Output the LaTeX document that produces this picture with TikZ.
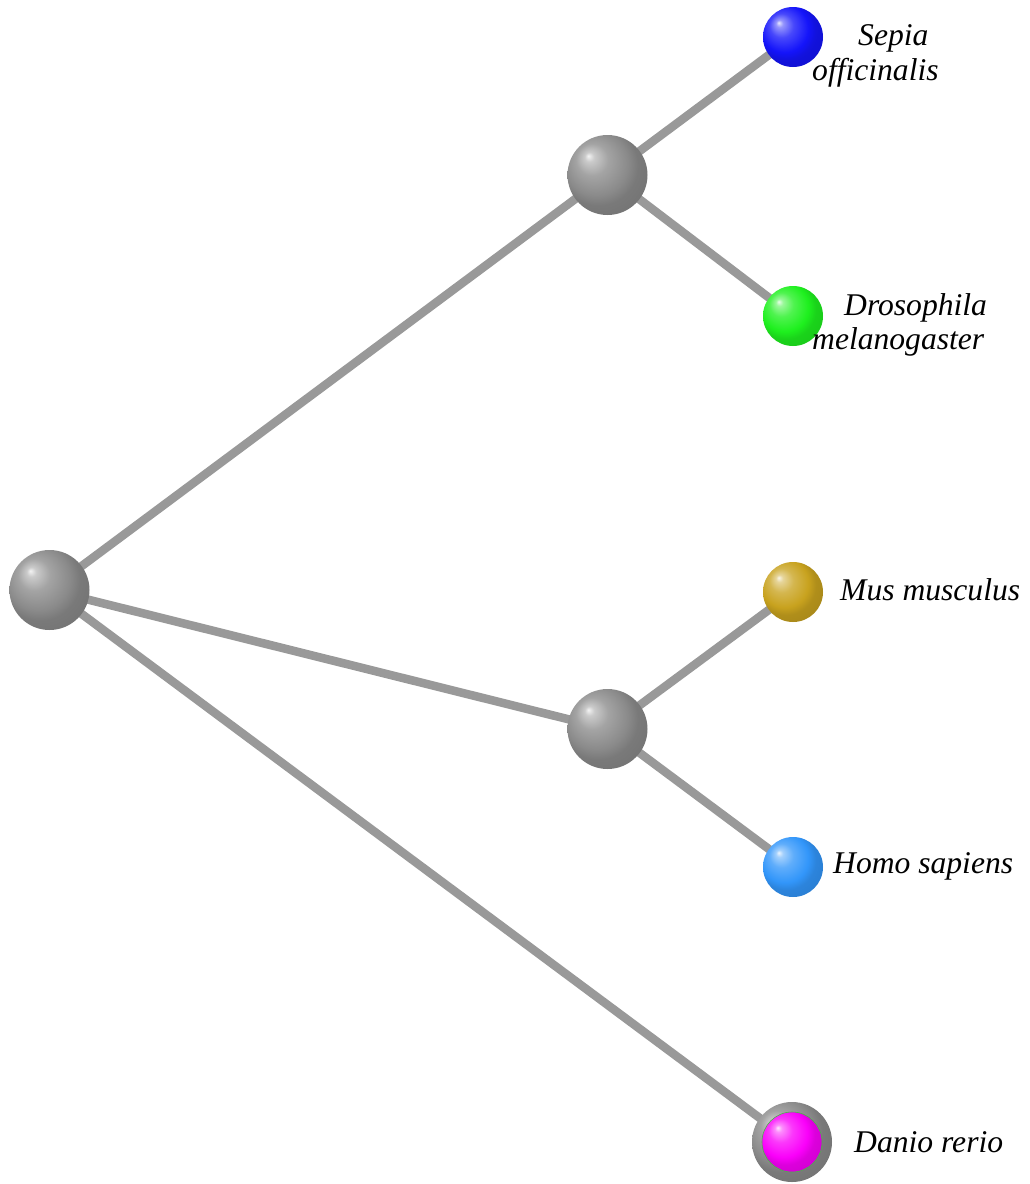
\documentclass[tikz,border=0pt]{standalone}
\usepackage{fontspec}
\setmainfont{Liberation Serif}
\makeatletter
% glossy sphere: small highlight upper left, body colour, slightly darker rim
\pgfdeclareradialshading[tikz@ball]{softball}{\pgfqpoint{-12bp}{12bp}}{%
  color(0bp)=(tikz@ball!10!white);
  color(3bp)=(tikz@ball!45!white);
  color(10bp)=(tikz@ball!78!white);
  color(20bp)=(tikz@ball);
  color(25bp)=(tikz@ball!88!black);
  color(50bp)=(tikz@ball!75!black)}
\makeatother
\definecolor{edgegray}{RGB}{153,153,153}
\definecolor{knotgray}{RGB}{138,138,138}
\definecolor{sepiablue}{RGB}{20,20,250}
\definecolor{flygreen}{RGB}{30,240,30}
\definecolor{mousegold}{RGB}{200,162,30}
\definecolor{humanblue}{RGB}{50,150,250}
\definecolor{fishpink}{RGB}{250,0,250}
\tikzset{
  branch/.style={draw=edgegray, line width=8.5pt},
  innerball/.style={circle, inner sep=0pt, minimum size=80pt, ball color=knotgray, shading=softball},
  leafball/.style={circle, inner sep=0pt, minimum size=60pt, ball color=#1, shading=softball},
  ringball/.style={circle, inner sep=0pt, minimum size=80pt, ball color=knotgray, shading=softball},
  species/.style={font=\fontsize{31.6}{35}\selectfont\itshape, inner sep=0pt, anchor=base west},
}
\begin{document}
\begin{tikzpicture}[x=1pt,y=-1pt]
\useasboundingbox (0,0) rectangle (1029,1184);
\fill[white] (0,0) rectangle (1029,1184);

% tree nodes
\coordinate (rootc) at (49.5,590);
\coordinate (upc) at (607.5,175);
\coordinate (lowc) at (607.5,729);
\coordinate (sepc) at (793,37);
\coordinate (droc) at (793,316);
\coordinate (musc) at (793,592);
\coordinate (homc) at (793,867);
\coordinate (danc) at (792,1142);

% branches
\draw[branch] (rootc) -- (upc);
\draw[branch] (rootc) -- (lowc);
\draw[branch] (rootc) -- (danc);
\draw[branch] (upc) -- (sepc);
\draw[branch] (upc) -- (droc);
\draw[branch] (lowc) -- (musc);
\draw[branch] (lowc) -- (homc);

% spheres
\node[innerball] (root) at (rootc) {};
\node[innerball] (up) at (upc) {};
\node[innerball] (low) at (lowc) {};
\node[leafball=sepiablue] (sepia) at (sepc) {};
\node[leafball=flygreen] (dros) at (droc) {};
\node[leafball=mousegold] (mus) at (musc) {};
\node[leafball=humanblue] (homo) at (homc) {};
\node[ringball] (danring) at (danc) {};
\node[leafball=fishpink, draw=green!40!gray, line width=0.6pt] (danio) at (danc) {};

% species names
\node[species] (sepT) at (858,45) {Sepia};
\node[species] (sepB) at (812,80) {officinalis};
\node[species] (droT) at (844,315) {Drosophila};
\node[species] (droB) at (812,349) {melanogaster};
\node[species] (musT) at (840,600) {Mus musculus};
\node[species] (homT) at (833,873) {Homo sapiens};
\node[species] (danT) at (854,1152) {Danio rerio};
\end{tikzpicture}
\end{document}
